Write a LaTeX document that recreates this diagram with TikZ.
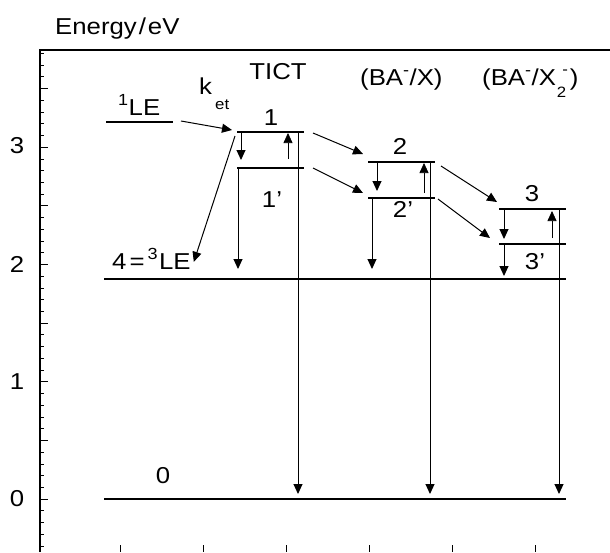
\documentclass[tikz,border=0pt]{standalone}
\usepackage{fontspec}
\setmainfont{Liberation Sans}[FakeStretch=1.12]
\usetikzlibrary{arrows.meta,calc}
\begin{document}
\begin{tikzpicture}[x=1pt,y=-1pt,
  level/.style={line width=2.2pt},
  frame/.style={line width=1.3pt},
  tick/.style={line width=0.6pt},
  arr/.style={line width=1pt,-{Triangle[length=10pt,width=9pt]}},
  thinarr/.style={line width=0.7pt,-{Triangle[length=10pt,width=9pt]}},
  lbl/.style={font=\fontsize{23}{25}\selectfont, inner sep=0pt},
  sublbl/.style={font=\fontsize{15}{16}\selectfont, inner sep=0pt},
]
\useasboundingbox (0,0) rectangle (610,552);
% frame
\coordinate (BL) at (40,552);
\coordinate (TL) at (40,50);
\coordinate (TR) at (610,50);
\draw[frame] (BL) -- (TL) -- (TR);
% left ticks every 0.1 eV, longer every 0.5 eV
\foreach \e in {-4,...,38}{
  \pgfmathtruncatemacro{\m}{mod(\e+10,5)}
  \ifnum\m=0
    \draw[tick] (40,{499-11.73*\e}) -- ++(8,0);
  \else
    \draw[tick] (40,{499-11.73*\e}) -- ++(4,0);
  \fi
}
% bottom ticks
\foreach \x in {120.5,203.5,286,369,452,535}{
  \draw[tick] (\x,545) -- (\x,552);
}
% axis labels
\node[lbl, anchor=base west] (ylab) at (55,34) {Energy\kern2pt/\kern2pt eV};
\node[lbl] (y3) at (17,146) {3};
\node[lbl] (y2) at (17,264) {2};
\node[lbl] (y1) at (17,382) {1};
\node[lbl] (y0) at (17,499) {0};
% column titles
\node[lbl, anchor=base] (tict) at (278,79) {TICT};
\node[lbl, anchor=base west] (bax) at (360,85) {(BA\textsuperscript{-}/X)};
\node[lbl, anchor=base west] (bax2) at (482,85) {(BA\textsuperscript{-}/X\kern1pt\raisebox{-0.55em}{\fontsize{15}{15}\selectfont 2}\kern-4pt\raisebox{0.45em}{\fontsize{15}{15}\selectfont -}\kern2pt)};
% levels
\coordinate (LEa) at (106,122); \coordinate (LEb) at (173,122);
\coordinate (L1a) at (237,132); \coordinate (L1b) at (304,132);
\coordinate (L1pa) at (237,168); \coordinate (L1pb) at (304,168);
\coordinate (L2a) at (368,162); \coordinate (L2b) at (435,162);
\coordinate (L2pa) at (368,198); \coordinate (L2pb) at (435,198);
\coordinate (L3a) at (499,209); \coordinate (L3b) at (566,209);
\coordinate (L3pa) at (499,244); \coordinate (L3pb) at (566,244);
\coordinate (T3a) at (104,279); \coordinate (T3b) at (566,279);
\coordinate (G0a) at (104,499); \coordinate (G0b) at (566,499);
\foreach \a/\b in {LEa/LEb,L1a/L1b,L1pa/L1pb,L2a/L2b,L2pa/L2pb,L3a/L3b,L3pa/L3pb,T3a/T3b,G0a/G0b}{
  \draw[level] (\a) -- (\b);
}
% level labels
\node[lbl, anchor=base west] (le1) at (118,115) {\textsuperscript{1}LE};
\node[lbl, anchor=base west] (k) at (199,94) {k};
\node[sublbl, anchor=base west] (et) at (215,109) {et};
\node[lbl, anchor=base west] (le3) at (112,269) {4\kern3pt=\kern3pt\textsuperscript{3}\kern1pt LE};
\node[lbl] (n1) at (271,118) {1};
\node[lbl] (n1p) at (272,200) {1’};
\node[lbl] (n2) at (400,146) {2};
\node[lbl] (n2p) at (403,209) {2’};
\node[lbl] (n3) at (532,194) {3};
\node[lbl] (n3p) at (535,262) {3’};
\node[lbl] (n0) at (163,476) {0};
% transfer arrows
\coordinate (t0s) at (181,121); \coordinate (t0e) at (232,130);
\coordinate (t1s) at (313,133); \coordinate (t1e) at (363,154);
\coordinate (t2s) at (313,168); \coordinate (t2e) at (363,193);
\coordinate (t3s) at (441,166); \coordinate (t3e) at (497,202);
\coordinate (t4s) at (438,199); \coordinate (t4e) at (490,238);
\coordinate (iscs) at (235,136);
\draw[arr] (t0s) -- (t0e);
\draw[arr] (t1s) -- (t1e);
\draw[arr] (t2s) -- (t2e);
\draw[arr] (t3s) -- (t3e);
\draw[arr] (t4s) -- (t4e);
\draw[arr] (iscs) -- ($(le3.east)+(3,3)$);
% relaxation arrows
\coordinate (d1s) at (241,132); \coordinate (d1e) at (241,160);
\coordinate (u1s) at (288,159); \coordinate (u1e) at (288,133);
\coordinate (r1s) at (238,168); \coordinate (r1e) at (238,269);
\coordinate (v1s) at (298,132); \coordinate (v1e) at (298,494);
\coordinate (d2s) at (377,162); \coordinate (d2e) at (377,191);
\coordinate (u2s) at (424,193); \coordinate (u2e) at (424,163);
\coordinate (r2s) at (372,198); \coordinate (r2e) at (372,269);
\coordinate (v2s) at (430,162); \coordinate (v2e) at (430,494);
\coordinate (d3s) at (504,209); \coordinate (d3e) at (504,239);
\coordinate (u3s) at (552,238); \coordinate (u3e) at (552,211);
\coordinate (r3s) at (504,244); \coordinate (r3e) at (504,276);
\coordinate (v3s) at (559,209); \coordinate (v3e) at (559,494);
\foreach \s/\e in {d1s/d1e,r1s/r1e,v1s/v1e,d2s/d2e,r2s/r2e,v2s/v2e,d3s/d3e,r3s/r3e,v3s/v3e}{
  \draw[arr] (\s) -- (\e);
}
\foreach \s/\e in {u1s/u1e,u2s/u2e,u3s/u3e}{
  \draw[thinarr] (\s) -- (\e);
}
\end{tikzpicture}
\end{document}
